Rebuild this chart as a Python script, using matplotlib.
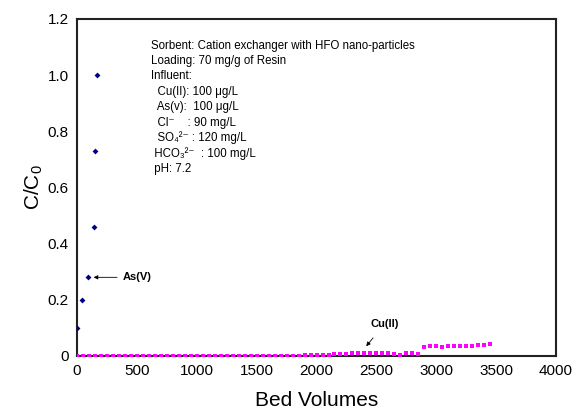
import numpy as np
import matplotlib.pyplot as plt

plt.rcParams['font.family'] = ['Liberation Sans', 'DejaVu Sans']
plt.rcParams['mathtext.default'] = 'regular'

# As(V) breakthrough
as_bv = [0, 39, 95, 139, 150, 164]
as_c = [0.10, 0.20, 0.28, 0.46, 0.73, 1.00]

# Cu(II) breakthrough
cu_bv = [0, 50, 100, 150, 200, 250, 300, 350, 400, 450,
         500, 550, 600, 650, 700, 750, 800, 850, 900, 950,
         1000, 1050, 1100, 1150, 1200, 1250, 1300, 1350, 1400, 1450,
         1500, 1550, 1600, 1650, 1700, 1750, 1800, 1850, 1900, 1950,
         2000, 2050, 2100, 2150, 2200, 2250, 2300, 2350, 2400, 2450,
         2500, 2550, 2600, 2650, 2700, 2750, 2800, 2850,
         2900, 2950, 3000, 3050, 3100, 3150, 3200, 3250, 3300, 3350, 3400, 3450]
cu_c = [0.0, 0.0, 0.0, 0.0, 0.0, 0.0, 0.0, 0.0, 0.0, 0.0,
        0.0, 0.0, 0.0, 0.0, 0.0, 0.0, 0.0, 0.0, 0.0, 0.0,
        0.0, 0.0, 0.0, 0.0, 0.0, 0.0, 0.0, 0.0, 0.0, 0.0,
        0.0, 0.0, 0.0, 0.0, 0.0, 0.0, 0.0, 0.0, 0.002, 0.003,
        0.002, 0.004, 0.005, 0.006, 0.007, 0.008, 0.009, 0.010, 0.011, 0.011,
        0.012, 0.011, 0.010, 0.006, 0.005, 0.009, 0.011, 0.008,
        0.033, 0.034, 0.034, 0.033, 0.035, 0.036, 0.034, 0.037, 0.037, 0.038, 0.040, 0.041]

info_lines = [
    'Sorbent: Cation exchanger with HFO nano-particles',
    'Loading: 70 mg/g of Resin',
    'Influent:',
    '  Cu(II): 100 \u03bcg/L',
    '  As(v):  100 \u03bcg/L',
    '  Cl\u207b    : 90 mg/L',
    '  SO\u2084\u00b2\u207b : 120 mg/L',
    ' HCO\u2083\u00b2\u207b  : 100 mg/L',
    ' pH: 7.2',
]

fig = plt.figure(figsize=(5.75, 4.12), dpi=100)
ax = fig.add_axes([0.134, 0.136, 0.833, 0.818])

ax.scatter(cu_bv, cu_c, marker='s', s=12, color='#ff00ff', zorder=3, linewidths=0)
ax.scatter(as_bv, as_c, marker='D', s=9, color='#000080', zorder=4, linewidths=0)

ax.set_xlim(0, 4000)
ax.set_ylim(0, 1.2)
ax.set_xticks(np.arange(0, 4001, 500))
ax.set_yticks([0, 0.2, 0.4, 0.6, 0.8, 1.0, 1.2])
ax.set_yticklabels(['0', '0.2', '0.4', '0.6', '0.8', '1.0', '1.2'])
ax.tick_params(labelsize=11, length=0, pad=6)
for s in ax.spines.values():
    s.set_linewidth(1.5)
    s.set_color('#222222')

ax.set_xlabel('Bed Volumes', fontsize=15, labelpad=9)
ax.set_ylabel('C/C$_0$', fontsize=15, labelpad=2)

ax.annotate('As(V)', xy=(115, 0.28), xytext=(380, 0.28), fontsize=8, fontweight='bold',
            va='center', arrowprops=dict(arrowstyle='-|>', color='black', lw=0.6,
                                         mutation_scale=6))
ax.annotate('Cu(II)', xy=(2400, 0.027), xytext=(2570, 0.115), fontsize=8, fontweight='bold',
            ha='center', va='center', arrowprops=dict(arrowstyle='-|>', color='black', lw=0.6,
                                                      mutation_scale=6, shrinkA=6))

y0 = 1.105
for i, line in enumerate(info_lines):
    ax.text(620, y0 - i * 0.0548, line, fontsize=8.3, va='center', ha='left')

fig.savefig('out.png', dpi=100)
